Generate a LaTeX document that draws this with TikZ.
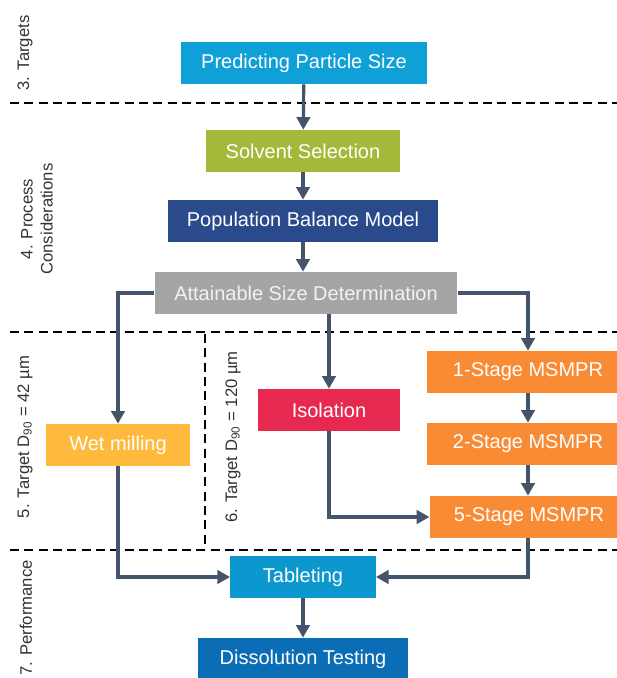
\documentclass[tikz,border=0pt]{standalone}
\usepackage{fontspec}
\setmainfont{Liberation Sans}
\usetikzlibrary{positioning, calc, arrows.meta}
\definecolor{cyanbox}{HTML}{0FA0D8}
\definecolor{tabletbox}{HTML}{0C97CE}
\definecolor{dissolbox}{HTML}{0A6DB5}
\definecolor{olivebox}{HTML}{A4B83A}
\definecolor{navybox}{HTML}{2B4A8B}
\definecolor{graybox}{HTML}{A5A5A5}
\definecolor{orangebox}{HTML}{FA8B35}
\definecolor{redbox}{HTML}{E8294F}
\definecolor{yellowbox}{HTML}{FFBA3E}
\definecolor{arrowcol}{HTML}{44546A}

\begin{document}
\begin{tikzpicture}[
  x=0.75pt, y=-0.75pt,
  box/.style={rectangle, minimum height=31.5pt, align=center, text=white, inner sep=0pt, font=\fontsize{15}{17}\selectfont},
  arrow/.style={-{Triangle[length=9.5pt, width=10pt]}, line width=2.4pt, draw=arrowcol},
  divider/.style={line width=2pt, dash pattern=on 6.75pt off 4pt},
  sidelabel/.style={rotate=90, align=center, text=black!80, font=\fontsize{12.5}{15}\selectfont}
]
\clip (0,0) rectangle (617,678);

% Stage dividers
\draw[divider] (10,103) -- (617,103);
\draw[divider] (10,332) -- (617,332);
\draw[divider] (10,550) -- (617,550);
\draw[divider] (205,334) -- (205,549);

% Stage labels
\node[sidelabel] (targets)   at (25,53)  {3. Targets};
\node[sidelabel] (process)   at (37,219) {4. Process\\Considerations};
\node[sidelabel] (target42)  at (25,437) {5. Target D\textsubscript{90} = 42 µm};
\node[sidelabel] (target120) at (233,437) {6. Target D\textsubscript{90} = 120 µm};
\node[sidelabel] (perf)      at (26,618) {7. Performance};

% Process boxes
\node[box, fill=cyanbox, minimum width=184.5pt]  (predict) at (304,63)  {Predicting Particle Size};
\node[box, fill=olivebox, minimum width=145pt]   (solvent) at (303,151) {Solvent Selection};
\node[box, fill=navybox, minimum width=203pt]    (pbm)     at (303,221) {Population Balance Model};
\node[box, fill=graybox, minimum width=227pt, text=white!90!gray] (attain) at (306,293) {Attainable Size Determination};
\node[box, fill=yellowbox, minimum width=108pt]  (wet)     at (118,445) {Wet milling};
\node[box, fill=redbox, minimum width=107pt]     (iso)     at (329,410) {Isolation};
\node[box, fill=orangebox, minimum width=151.5pt] (stage1) at (528,372) {1-Stage MSMPR};
\node[box, fill=orangebox, minimum width=151.5pt] (stage2) at (528,444) {2-Stage MSMPR};
\node[box, fill=orangebox, minimum width=149pt]   (stage5) at (529,517) {5-Stage MSMPR};
\node[box, fill=tabletbox, minimum width=109pt]  (tablet)  at (303,577) {Tableting};
\node[box, fill=dissolbox, minimum width=158pt]  (dissol)  at (303,659) {Dissolution Testing};

% Arrows
\draw[arrow] (predict) -- (solvent);
\draw[arrow] (solvent) -- (pbm);
\draw[arrow] (pbm.south) -- (pbm.south |- attain.north);
\draw[arrow] (attain.west) -| (wet.north);
\draw[arrow] (attain.east) -| (stage1.north);
\draw[arrow] (attain.south -| iso.north) -- (iso.north);
\draw[arrow] (stage1) -- (stage2);
\draw[arrow] (stage2.south) -- (stage2.south |- stage5.north);
\draw[arrow] (iso.south) |- (stage5.west);
\draw[arrow] (wet.south) |- (tablet.west);
\draw[arrow] (stage2.south |- stage5.south) |- (tablet.east);
\draw[arrow] (tablet) -- (dissol);

\end{tikzpicture}
\end{document}
